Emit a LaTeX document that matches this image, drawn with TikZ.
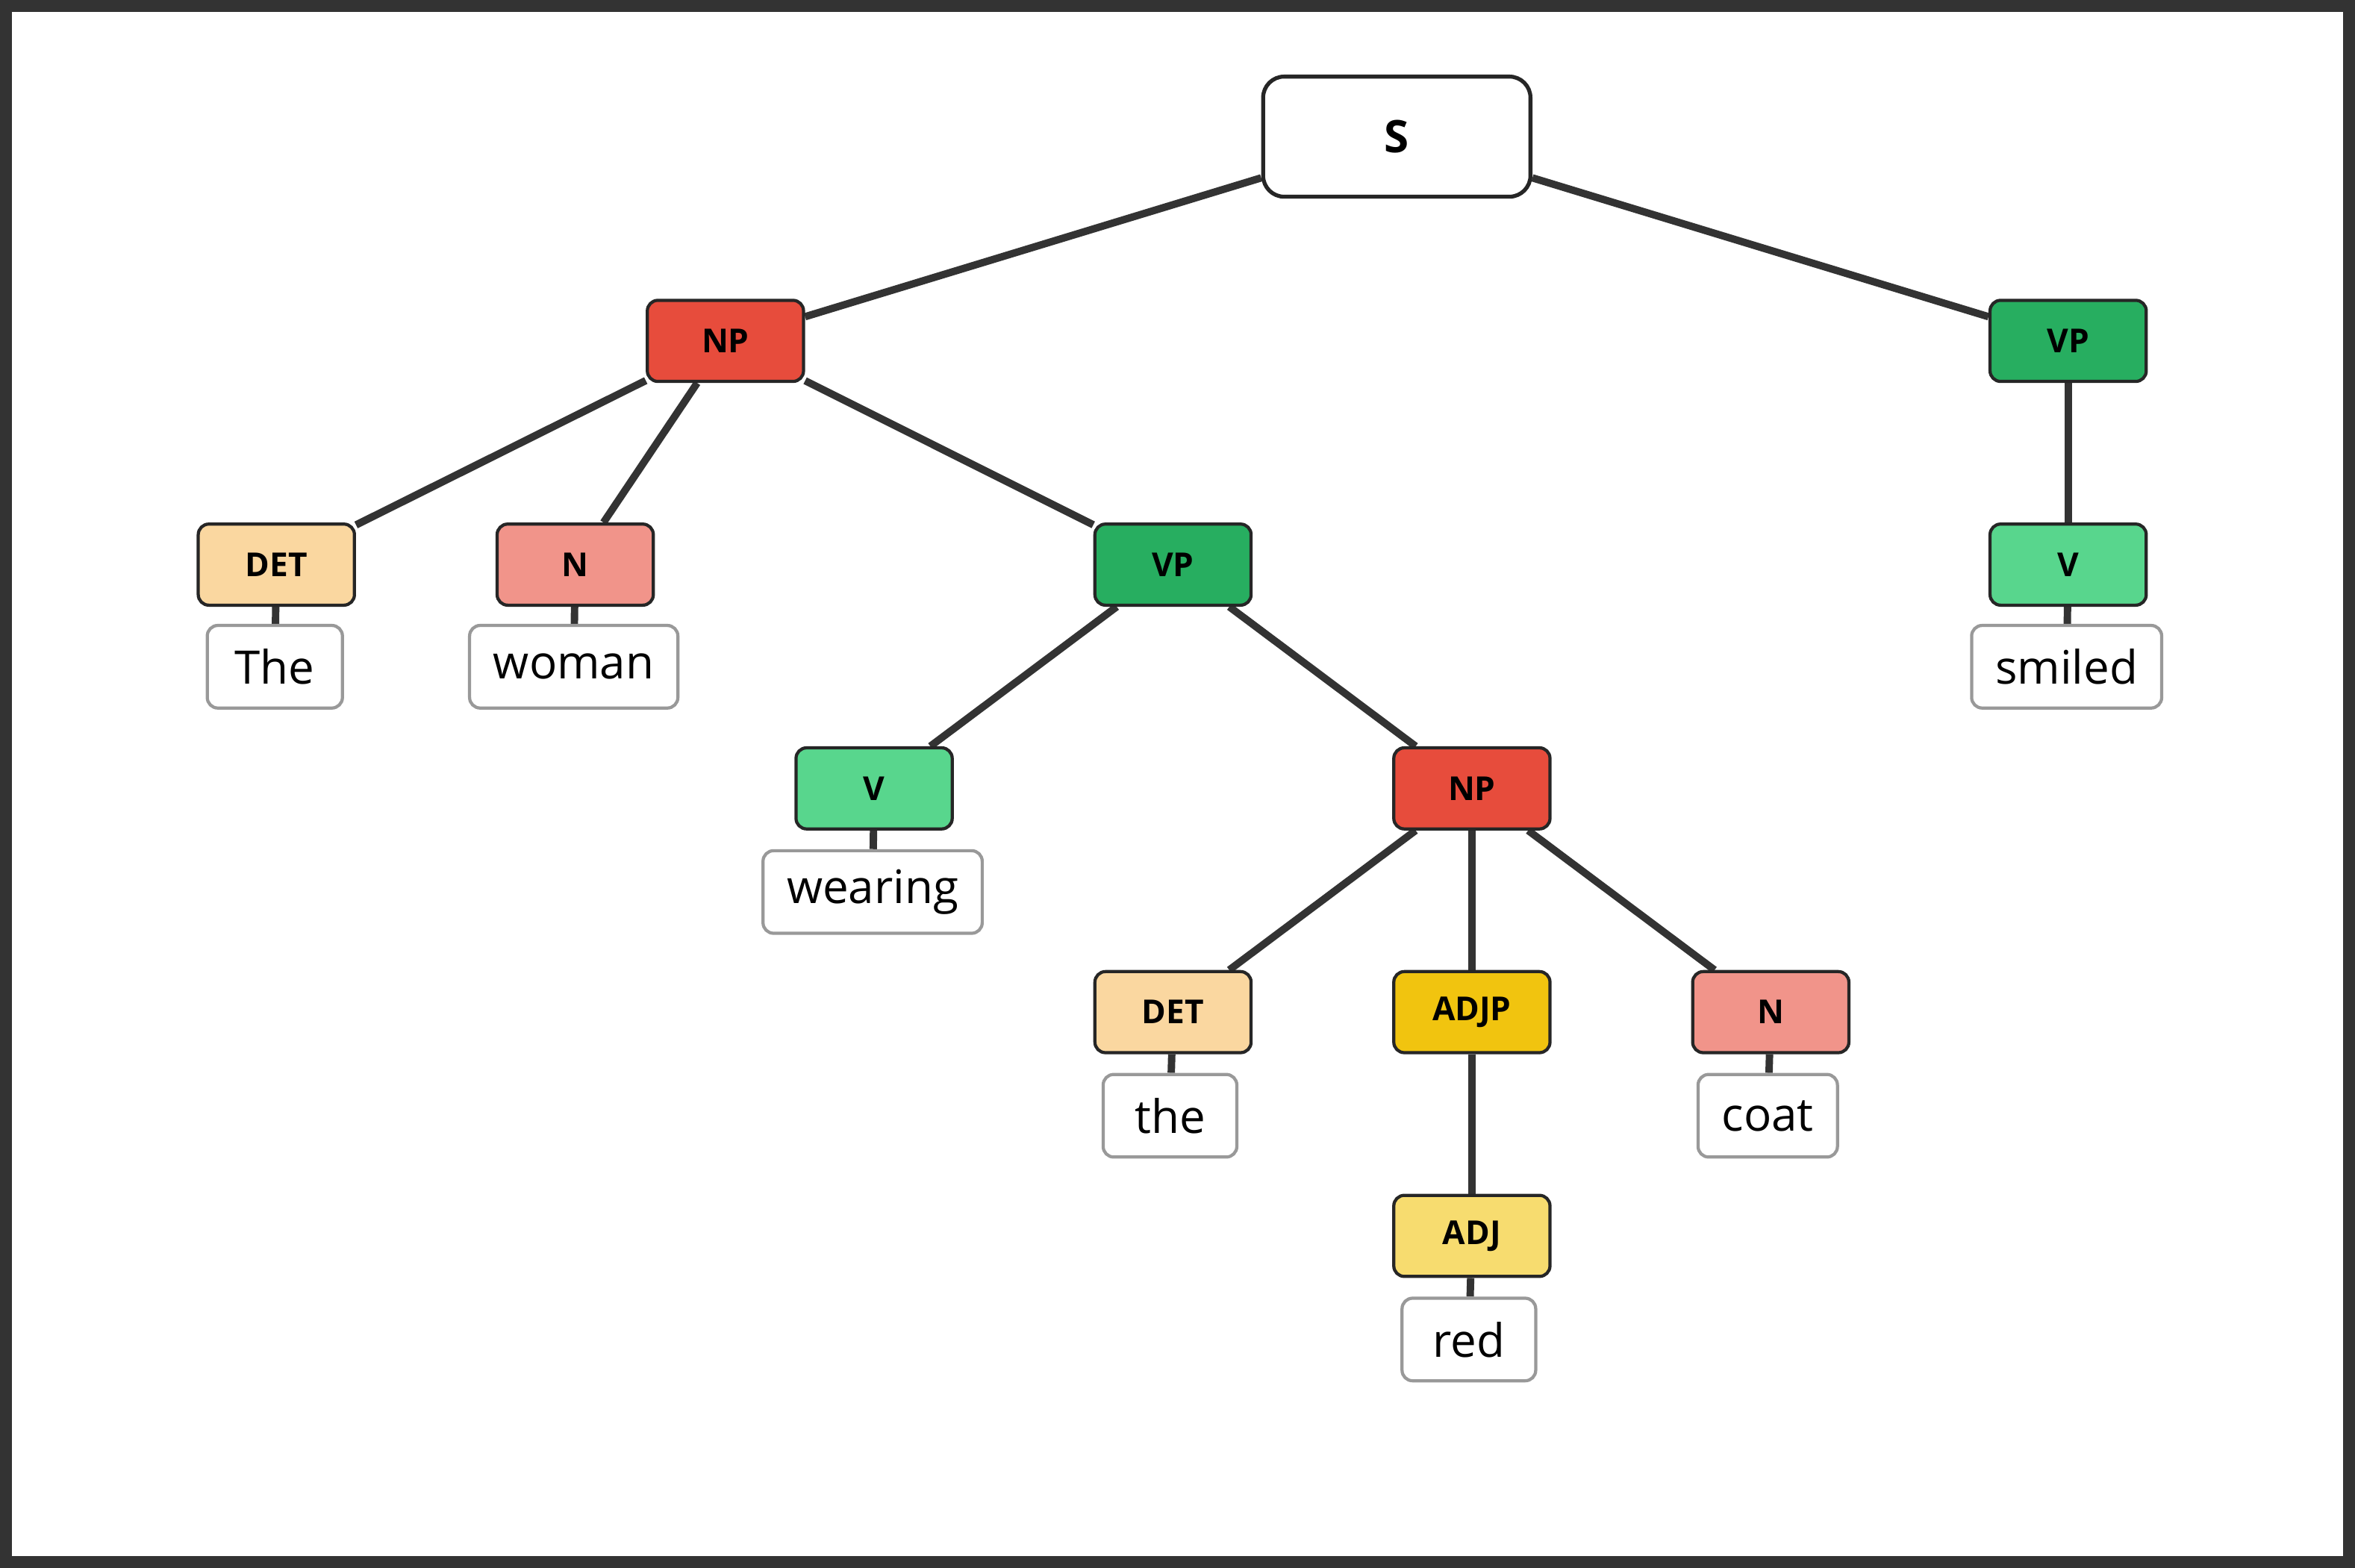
\documentclass[tikz,border=0pt]{standalone}
\usepackage{fontspec}
\setmainfont{Open Sans}
\usetikzlibrary{backgrounds}
\begin{document}
\begin{tikzpicture}[x=0.02cm,y=-0.02cm,
 tag/.style={draw=black!85,line width=1.2pt,rounded corners=4pt,minimum width=104*0.02cm,minimum height=54*0.02cm,inner sep=0pt,font=\fontsize{12.5}{14}\selectfont\bfseries},
 word/.style={draw=black!40,fill=white,line width=1.2pt,rounded corners=4pt,minimum height=55*0.02cm,inner xsep=9pt,inner ysep=0pt,font=\fontsize{17.5}{20}\selectfont},
 edge/.style={draw=black!80,line width=2.8pt}]
\useasboundingbox (0,0) rectangle (1568,1044);
\draw[black!80,line width=4.5pt] (4,4) rectangle (1564,1040);
\node[draw=black!85,fill=white,line width=1.5pt,rounded corners=8pt,minimum width=178*0.02cm,minimum height=80*0.02cm,font=\fontsize{17}{20}\selectfont\bfseries] (S) at (930,91) {S};
\node[tag,fill={rgb,255:red,231;green,76;blue,60}] (NP1) at (483,227) {NP};
\node[tag,fill={rgb,255:red,39;green,174;blue,96}] (VPr) at (1377,227) {VP};
\node[tag,fill={rgb,255:red,250;green,215;blue,160}] (DET1) at (184,376) {DET};
\node[tag,fill={rgb,255:red,241;green,148;blue,138}] (N1) at (383,376) {N};
\node[tag,fill={rgb,255:red,39;green,174;blue,96}] (VP2) at (781,376) {VP};
\node[tag,fill={rgb,255:red,88;green,214;blue,141}] (Vr) at (1377,376) {V};
\node[tag,fill={rgb,255:red,88;green,214;blue,141}] (V2) at (582,525) {V};
\node[tag,fill={rgb,255:red,231;green,76;blue,60}] (NP2) at (980,525) {NP};
\node[tag,fill={rgb,255:red,250;green,215;blue,160}] (DET2) at (781,674) {DET};
\node[tag,fill={rgb,255:red,241;green,196;blue,15}] (ADJP) at (980,674) {ADJP};
\node[tag,fill={rgb,255:red,241;green,148;blue,138}] (N2) at (1179,674) {N};
\node[tag,fill={rgb,255:red,247;green,220;blue,111}] (ADJ) at (980,823) {ADJ};
\node[word,minimum width=90*0.02cm] (wThe) at (183,444) {The};
\node[word,minimum width=134*0.02cm] (wwoman) at (382,444) {woman};
\node[word,minimum width=123*0.02cm] (wsmiled) at (1376,444) {smiled};
\node[word,minimum width=142*0.02cm] (wwearing) at (581,594) {wearing};
\node[word,minimum width=89*0.02cm] (wthe) at (779,743) {the};
\node[word,minimum width=90*0.02cm] (wcoat) at (1177,743) {coat};
\node[word,minimum width=89*0.02cm] (wred) at (978,892) {red};
\begin{scope}[on background layer]
\draw[edge] (S) -- (NP1);
\draw[edge] (S) -- (VPr);
\draw[edge] (NP1) -- (DET1);
\draw[edge] (NP1) -- (N1);
\draw[edge] (NP1) -- (VP2);
\draw[edge] (VPr) -- (Vr);
\draw[edge] (VP2) -- (V2);
\draw[edge] (VP2) -- (NP2);
\draw[edge] (NP2) -- (DET2);
\draw[edge] (NP2) -- (ADJP);
\draw[edge] (NP2) -- (N2);
\draw[edge] (ADJP) -- (ADJ);
\draw[edge] (DET1) -- (wThe);
\draw[edge] (N1) -- (wwoman);
\draw[edge] (Vr) -- (wsmiled);
\draw[edge] (V2) -- (wwearing);
\draw[edge] (DET2) -- (wthe);
\draw[edge] (N2) -- (wcoat);
\draw[edge] (ADJ) -- (wred);
\end{scope}
\end{tikzpicture}
\end{document}
